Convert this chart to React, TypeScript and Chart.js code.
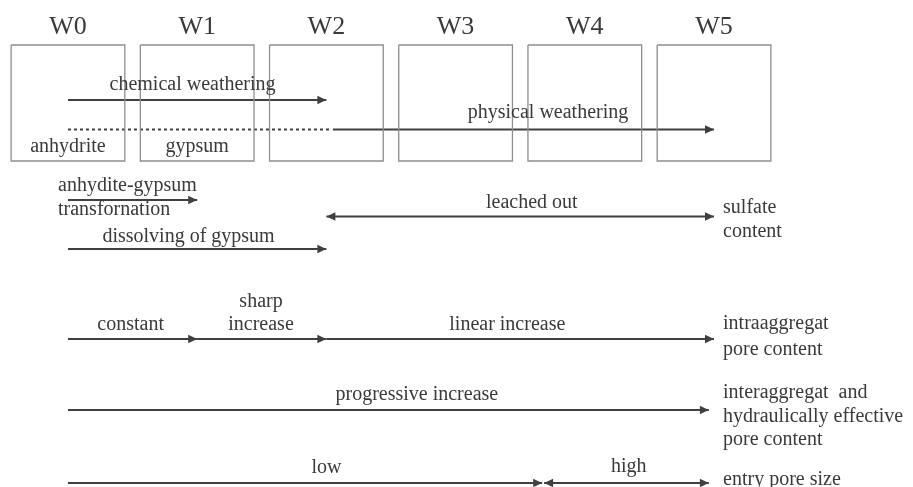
import React, { useEffect, useRef } from "react";
import { Chart, registerables } from "chart.js";

Chart.register(...registerables);

// ---- data ----
const stages = ["W0", "W1", "W2", "W3", "W4", "W5"];
const boxLabels = ["anhydrite", "gypsum", "", "", "", ""];
const boxHalfWidth = 0.44;
const boxTop = 45;
const boxBottom = 161;

// arrows (x in weathering-stage units, y in layout rows)
const arrowNames = [
  "chemical weathering",
  "sulfate (dashed)",
  "physical weathering",
  "anhydite-gypsum transformation",
  "leached out",
  "dissolving of gypsum",
  "constant",
  "sharp increase",
  "linear increase",
  "progressive increase",
  "low",
  "high",
];
const arrowStart = [0, 0, 2.05, 0, 2, 0, 0, 1, 2, 0, 0, 3.685];
const arrowEnd = [2, 2.03, 5, 1, 5, 2, 1, 2, 5, 4.96, 3.67, 4.96];
const arrowRow = [100, 129.5, 129.5, 200, 216.5, 249, 339, 339, 339, 410, 483, 483];
const arrowHeads = ["end", "none", "end", "end", "both", "end", "end", "end", "end", "end", "end", "both"];
const arrowDashed = [false, true, false, false, false, false, false, false, false, false, false, false];

// text labels
const labelTexts = [
  "chemical weathering",
  "physical weathering",
  "anhydite-gypsum",
  "transfornation",
  "leached out",
  "sulfate",
  "content",
  "dissolving of gypsum",
  "sharp",
  "increase",
  "constant",
  "linear increase",
  "intraaggregat",
  "pore content",
  "progressive increase",
  "interaggregat  and",
  "hydraulically effective",
  "pore content",
  "low",
  "high",
  "entry pore size",
];
const labelX = [0.964, 3.715, -0.077, -0.077, 3.59, 5.07, 5.07, 0.933, 1.494, 1.494, 0.485, 3.4, 5.07, 5.07, 2.7, 5.07, 5.07, 5.07, 2.0, 4.34, 5.07];
const labelRow = [90, 118, 191, 215, 208, 213, 237, 242, 307, 330, 330, 330, 329, 355, 400, 398, 422, 445, 473, 472, 485];
const labelAlign = ["center", "center", "left", "left", "center", "left", "left", "center", "center", "center", "center", "center", "left", "left", "center", "left", "left", "left", "center", "center", "left"];

const boxLabelRow = 152;

const FONT = "'Liberation Serif', 'Times New Roman', serif";
const TEXT_COLOR = "#3a3a3a";
const LINE_COLOR = "#404040";
const BOX_COLOR = "#8e8e8e";
const AXIS_HEIGHT = 44;

const diagramPlugin = {
  id: "diagramPlugin",
  afterDatasetsDraw(chart: any) {
    const ctx = chart.ctx;
    const xs = chart.scales.x;
    const ys = chart.scales.y;
    // arrowheads
    chart.data.datasets.forEach((ds: any, i: number) => {
      if (!ds.arrowHeads || ds.arrowHeads === "none") return;
      const meta = chart.getDatasetMeta(i);
      const pts = meta.data;
      if (pts.length < 2) return;
      const a = pts[0];
      const b = pts[pts.length - 1];
      const draw = (tip: any, from: any) => {
        const ang = Math.atan2(tip.y - from.y, tip.x - from.x);
        const len = 9;
        const hw = 4.2;
        ctx.save();
        ctx.translate(tip.x, tip.y);
        ctx.rotate(ang);
        ctx.beginPath();
        ctx.moveTo(0, 0);
        ctx.lineTo(-len, -hw);
        ctx.lineTo(-len, hw);
        ctx.closePath();
        ctx.fillStyle = LINE_COLOR;
        ctx.fill();
        ctx.restore();
      };
      if (ds.arrowHeads === "end" || ds.arrowHeads === "both") draw(b, a);
      if (ds.arrowHeads === "start" || ds.arrowHeads === "both") draw(a, b);
    });
    // texts
    ctx.save();
    ctx.fillStyle = TEXT_COLOR;
    ctx.textBaseline = "alphabetic";
    ctx.font = `20px ${FONT}`;
    labelTexts.forEach((t, i) => {
      ctx.textAlign = labelAlign[i] as CanvasTextAlign;
      ctx.fillText(t, xs.getPixelForValue(labelX[i]), ys.getPixelForValue(labelRow[i]));
    });
    ctx.textAlign = "center";
    boxLabels.forEach((t, i) => {
      if (!t) return;
      ctx.fillText(t, xs.getPixelForValue(i), ys.getPixelForValue(boxLabelRow));
    });
    ctx.restore();
  },
};

export default function App() {
  const ref = useRef<HTMLCanvasElement | null>(null);
  useEffect(() => {
    if (!ref.current) return;
    const boxSets = stages.map((s, i) => ({
      label: s,
      data: [
        { x: i - boxHalfWidth, y: boxTop },
        { x: i + boxHalfWidth, y: boxTop },
        { x: i + boxHalfWidth, y: boxBottom },
        { x: i - boxHalfWidth, y: boxBottom },
        { x: i - boxHalfWidth, y: boxTop },
      ],
      showLine: true,
      borderColor: BOX_COLOR,
      borderWidth: 1.3,
      borderJoinStyle: "miter",
      pointRadius: 0,
      fill: false,
      tension: 0,
    }));
    const arrowSets = arrowNames.map((n, i) => ({
      label: n,
      data: [
        { x: arrowStart[i], y: arrowRow[i] },
        { x: arrowEnd[i], y: arrowRow[i] },
      ],
      showLine: true,
      borderColor: LINE_COLOR,
      borderWidth: 2,
      borderDash: arrowDashed[i] ? [3, 3] : [],
      pointRadius: 0,
      fill: false,
      tension: 0,
      arrowHeads: arrowHeads[i],
    }));
    const chart = new Chart(ref.current, {
      type: "scatter",
      data: { datasets: [...boxSets, ...arrowSets] as any },
      options: {
        animation: false,
        responsive: false,
        events: [],
        layout: { padding: 0 },
        plugins: { legend: { display: false }, tooltip: { enabled: false } },
        scales: {
          x: {
            type: "linear",
            position: "top",
            min: -0.526,
            max: 6.54,
            grid: { display: false, drawTicks: false },
            border: { display: false },
            afterBuildTicks: (scale: any) => {
              scale.ticks = stages.map((_, i) => ({ value: i }));
            },
            afterFit: (scale: any) => {
              scale.height = AXIS_HEIGHT;
            },
            ticks: {
              autoSkip: false,
              maxRotation: 0,
              padding: 1.5,
              color: TEXT_COLOR,
              font: { family: FONT, size: 26 },
              callback: (v: any) => stages[Math.round(Number(v))] ?? "",
            },
          },
          y: {
            type: "linear",
            min: AXIS_HEIGHT,
            max: 487,
            reverse: true,
            display: false,
          },
        },
      },
      plugins: [diagramPlugin],
    });
    return () => chart.destroy();
  }, []);
  return (
    <div style={{ position: "fixed", left: 0, top: 0, width: 913, height: 487, background: "#fff" }}>
      <canvas ref={ref} width={913} height={487} style={{ display: "block" }} />
    </div>
  );
}
